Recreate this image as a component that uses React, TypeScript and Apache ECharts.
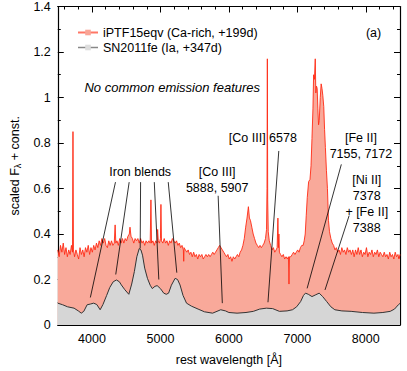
import React, { useEffect, useRef } from 'react';
import * as echarts from 'echarts';

const FONT = '"Liberation Sans", Arial, Helvetica, sans-serif';

const xMajorTicks = [4000, 5000, 6000, 7000, 8000];
const xMinorTicks = [3600, 3800, 4200, 4400, 4600, 4800, 5200, 5400, 5600, 5800, 6200, 6400, 6600, 6800, 7200, 7400, 7600, 7800, 8200, 8400];

const iptfLabel = 'iPTF15eqv (Ca-rich, +199d)';
const sn11feLabel = 'SN2011fe (Ia, +347d)';

// iPTF15eqv spectrum: [rest wavelength (Å), scaled flux]
const iptfSpectrum: number[][] = [
  [3500, 0.33], [3520, 0.30], [3540, 0.35], [3560, 0.32], [3580, 0.36], [3600, 0.31], [3620, 0.34], [3640, 0.30],
  [3660, 0.33], [3680, 0.31], [3700, 0.35], [3715, 0.32], [3722, 0.85], [3729, 0.33], [3745, 0.30], [3765, 0.33],
  [3785, 0.31], [3805, 0.29], [3825, 0.34], [3845, 0.31], [3865, 0.33], [3885, 0.30], [3905, 0.34], [3925, 0.32],
  [3945, 0.35], [3965, 0.31], [3985, 0.34], [4005, 0.32], [4025, 0.35], [4045, 0.33], [4065, 0.36], [4085, 0.34],
  [4105, 0.37], [4125, 0.35], [4145, 0.38], [4165, 0.36], [4185, 0.38], [4205, 0.35], [4225, 0.34], [4245, 0.37],
  [4265, 0.35], [4285, 0.37], [4305, 0.35], [4325, 0.36], [4338, 0.44], [4348, 0.36], [4365, 0.37], [4385, 0.35],
  [4405, 0.38], [4425, 0.36], [4445, 0.38], [4465, 0.36], [4485, 0.38], [4505, 0.37], [4525, 0.39], [4545, 0.40],
  [4555, 0.43], [4570, 0.39], [4590, 0.38], [4610, 0.36], [4630, 0.38], [4650, 0.37], [4670, 0.38], [4690, 0.36],
  [4710, 0.38], [4730, 0.36], [4750, 0.37], [4770, 0.35], [4790, 0.37], [4810, 0.36], [4830, 0.37], [4850, 0.36],
  [4861, 0.55], [4870, 0.36], [4890, 0.37], [4910, 0.35], [4930, 0.37], [4950, 0.36], [4959, 0.42], [4968, 0.37],
  [4985, 0.36], [5000, 0.38], [5007, 0.53], [5015, 0.37], [5035, 0.36], [5055, 0.38], [5075, 0.36], [5095, 0.37],
  [5115, 0.35], [5135, 0.37], [5155, 0.36], [5175, 0.38], [5195, 0.37], [5215, 0.36], [5235, 0.37], [5255, 0.35],
  [5275, 0.36], [5295, 0.34], [5315, 0.35], [5335, 0.33], [5340, 0.28], [5345, 0.34], [5365, 0.33], [5385, 0.32],
  [5405, 0.33], [5425, 0.31], [5445, 0.32], [5465, 0.30], [5485, 0.32], [5505, 0.30], [5525, 0.31], [5545, 0.29],
  [5565, 0.31], [5585, 0.30], [5605, 0.31], [5625, 0.29], [5645, 0.30], [5665, 0.31], [5685, 0.30], [5705, 0.31],
  [5725, 0.30], [5745, 0.31], [5765, 0.32], [5785, 0.31], [5805, 0.32], [5825, 0.33], [5845, 0.34], [5865, 0.35],
  [5885, 0.34], [5905, 0.33], [5925, 0.32], [5945, 0.31], [5965, 0.30], [5985, 0.31], [6005, 0.29], [6025, 0.30],
  [6045, 0.28], [6065, 0.30], [6085, 0.29], [6105, 0.30], [6125, 0.31], [6145, 0.30], [6165, 0.32], [6185, 0.33],
  [6205, 0.35], [6225, 0.38], [6245, 0.43], [6265, 0.47], [6285, 0.52], [6300, 0.47], [6315, 0.46], [6335, 0.43],
  [6355, 0.40], [6375, 0.38], [6395, 0.36], [6415, 0.35], [6435, 0.34], [6455, 0.35], [6475, 0.34], [6495, 0.35],
  [6515, 0.36], [6535, 0.38], [6550, 0.42], [6557, 0.60], [6562, 1.17], [6567, 0.55], [6575, 0.41], [6590, 0.37],
  [6610, 0.35], [6630, 0.33], [6650, 0.34], [6670, 0.32], [6690, 0.33], [6705, 0.34], [6716, 0.47], [6724, 0.34],
  [6731, 0.40], [6738, 0.32], [6755, 0.31], [6775, 0.30], [6795, 0.31], [6815, 0.29], [6835, 0.30], [6855, 0.29],
  [6870, 0.30], [6878, 0.18], [6886, 0.30], [6905, 0.30], [6925, 0.31], [6945, 0.32], [6965, 0.31], [6985, 0.32],
  [7005, 0.33], [7025, 0.32], [7045, 0.34], [7065, 0.35], [7085, 0.35], [7100, 0.37], [7115, 0.40], [7130, 0.48],
  [7145, 0.56], [7165, 0.63], [7185, 0.64], [7200, 0.70], [7214, 0.82], [7228, 0.95], [7238, 1.10], [7250, 1.08],
  [7262, 1.17], [7270, 1.02], [7280, 1.05], [7290, 1.04], [7300, 0.95], [7310, 0.88], [7320, 0.90], [7335, 1.00],
  [7348, 1.06], [7360, 1.04], [7372, 1.01], [7386, 0.96], [7398, 0.86], [7410, 0.78], [7425, 0.68], [7440, 0.60],
  [7455, 0.46], [7470, 0.41], [7490, 0.38], [7510, 0.36], [7530, 0.35], [7550, 0.33], [7570, 0.34], [7590, 0.32],
  [7610, 0.33], [7630, 0.31], [7650, 0.34], [7670, 0.32], [7690, 0.33], [7710, 0.31], [7730, 0.34], [7750, 0.32],
  [7770, 0.33], [7790, 0.31], [7810, 0.33], [7830, 0.30], [7850, 0.33], [7870, 0.31], [7890, 0.34], [7910, 0.31],
  [7930, 0.33], [7950, 0.30], [7970, 0.32], [7990, 0.31], [8010, 0.34], [8030, 0.30], [8050, 0.32], [8070, 0.31],
  [8090, 0.33], [8110, 0.30], [8130, 0.32], [8150, 0.31], [8170, 0.33], [8190, 0.30], [8210, 0.32], [8230, 0.31],
  [8250, 0.30], [8270, 0.32], [8290, 0.30], [8310, 0.31], [8330, 0.29], [8350, 0.32], [8370, 0.30], [8390, 0.31],
  [8410, 0.29], [8430, 0.32], [8450, 0.30], [8470, 0.31], [8485, 0.29], [8500, 0.31],
];

// SN2011fe spectrum: [rest wavelength (Å), scaled flux]
const sn11feSpectrum: number[][] = [
  [3500, 0.096], [3571, 0.089], [3643, 0.080], [3738, 0.074], [3800, 0.062], [3843, 0.052], [3880, 0.060],
  [3929, 0.089], [3975, 0.092], [4024, 0.096], [4070, 0.090], [4119, 0.067], [4160, 0.090], [4214, 0.130],
  [4260, 0.165], [4310, 0.190], [4357, 0.198], [4400, 0.190], [4429, 0.176], [4480, 0.155], [4538, 0.135],
  [4580, 0.180], [4619, 0.235], [4655, 0.300], [4690, 0.336], [4715, 0.330], [4738, 0.307], [4770, 0.250],
  [4810, 0.205], [4850, 0.175], [4881, 0.160], [4920, 0.170], [4952, 0.173], [5000, 0.160], [5048, 0.140],
  [5085, 0.135], [5119, 0.140], [5160, 0.175], [5214, 0.205], [5250, 0.200], [5286, 0.176], [5330, 0.130],
  [5381, 0.096], [5452, 0.083], [5550, 0.070], [5643, 0.058], [5762, 0.052], [5881, 0.067], [5950, 0.062],
  [6000, 0.055], [6119, 0.052], [6250, 0.055], [6357, 0.060], [6450, 0.070], [6548, 0.074], [6640, 0.072],
  [6738, 0.060], [6850, 0.062], [6929, 0.067], [6990, 0.080], [7048, 0.103], [7090, 0.130], [7119, 0.140],
  [7160, 0.135], [7214, 0.125], [7270, 0.133], [7319, 0.140], [7370, 0.125], [7429, 0.103], [7490, 0.080],
  [7548, 0.067], [7650, 0.062], [7786, 0.060], [7950, 0.055], [8119, 0.052], [8250, 0.055], [8357, 0.060],
  [8420, 0.070], [8476, 0.089], [8500, 0.095],
];

// Annotation texts, anchored at [wavelength, flux] (block centre)
const annotTexts: { text: string; at: number[] }[] = [
  { text: 'Iron blends', at: [4704, 0.672] },
  { text: '[Co III]\n5888, 5907', at: [5829, 0.637] },
  { text: '[Co III] 6578', at: [6496, 0.823] },
  { text: '[Fe II]\n7155, 7172', at: [7929, 0.788] },
  { text: '[Ni II]\n7378\n+ [Fe II]\n7388', at: [8014, 0.532] },
];

// Annotation leader lines: [λ1, f1, λ2, f2]
const annotLines: number[][] = [
  [4343, 0.628, 3976, 0.121],
  [4543, 0.628, 4347, 0.222],
  [4710, 0.628, 4704, 0.336],
  [4910, 0.628, 4976, 0.200],
  [5114, 0.628, 5239, 0.230],
  [5843, 0.568, 5904, 0.096],
  [6729, 0.765, 6571, 0.100],
  [7643, 0.706, 7143, 0.161],
  [7757, 0.481, 7404, 0.154],
];

const noteText = 'No common emission features';
const noteAt = [3890, 1.045];
const panelText = '(a)';
const panelAt = [8114, 1.285];

export default function App() {
  const ref = useRef<HTMLDivElement>(null);
  useEffect(() => {
    const chart = echarts.init(ref.current!, null, { renderer: 'svg' });
    const axisLine = { show: true, lineStyle: { color: '#000', width: 1.2 } };
    const xBase = { type: 'value', min: 3500, max: 8500, splitLine: { show: false } };
    const yBase = {
      type: 'value', min: 0, max: 1.4, interval: 0.2, splitLine: { show: false },
      minorTick: { show: true, splitNumber: 2, length: 3, lineStyle: { color: '#000', width: 1 } },
      minorSplitLine: { show: false },
      axisTick: { show: true, inside: true, length: 6, lineStyle: { color: '#000', width: 1 } },
      axisLine,
    };
    chart.setOption({
      animation: false,
      textStyle: { fontFamily: FONT },
      grid: { left: 50, right: 7, top: 6, bottom: 44, containLabel: false },
      legend: {
        left: 72, top: 21, orient: 'vertical', itemWidth: 20, itemHeight: 7, itemGap: 2,
        textStyle: { fontSize: 12.5, color: '#000', fontFamily: FONT },
        data: [
          { name: iptfLabel, lineStyle: { color: '#ff7766', width: 2 }, itemStyle: { color: '#f9a596' } },
          { name: sn11feLabel, lineStyle: { color: '#888', width: 1.5 }, itemStyle: { color: '#dddddd' } },
        ],
      },
      xAxis: [
        {
          ...xBase, position: 'bottom', axisLine,
          axisTick: { show: true, inside: true, length: 6, customValues: xMajorTicks, lineStyle: { color: '#000', width: 1 } },
          axisLabel: {
            show: true, customValues: xMajorTicks, margin: 7, fontSize: 12.5, color: '#000', fontFamily: FONT,
            formatter: (v: number) => String(Math.round(v)),
          },
          name: 'rest wavelength [Å]', nameLocation: 'middle', nameGap: 28,
          nameTextStyle: { fontSize: 12.5, color: '#000', fontFamily: FONT },
        },
        {
          ...xBase, position: 'bottom', axisLine: { show: false },
          axisTick: { show: true, inside: true, length: 3, customValues: xMinorTicks, lineStyle: { color: '#000', width: 1 } },
          axisLabel: { show: false },
        },
        {
          ...xBase, position: 'top', axisLine,
          axisTick: { show: true, inside: true, length: 6, customValues: xMajorTicks, lineStyle: { color: '#000', width: 1 } },
          axisLabel: { show: false },
        },
        {
          ...xBase, position: 'top', axisLine: { show: false },
          axisTick: { show: true, inside: true, length: 3, customValues: xMinorTicks, lineStyle: { color: '#000', width: 1 } },
          axisLabel: { show: false },
        },
      ],
      yAxis: [
        {
          ...yBase, position: 'left',
          axisLabel: { show: true, margin: 7, fontSize: 12.5, color: '#000', fontFamily: FONT },
          name: '{a|scaled F}{s|λ}{a| + const.}', nameLocation: 'middle', nameGap: 31,
          nameTextStyle: {
            color: '#000',
            rich: {
              a: { fontSize: 12.5, fontFamily: FONT, color: '#000', lineHeight: 16 },
              s: { fontSize: 9, fontFamily: FONT, color: '#000', lineHeight: 16, verticalAlign: 'bottom', padding: [5, 0, 0, 0] },
            },
          },
        },
        { ...yBase, position: 'right', axisLabel: { show: false } },
      ],
      series: [
        {
          name: iptfLabel, type: 'line', xAxisIndex: 0, yAxisIndex: 0, data: iptfSpectrum,
          showSymbol: false, symbol: 'rect', symbolSize: 6, z: 2,
          lineStyle: { color: '#ff2a14', width: 0.9 },
          itemStyle: { color: '#f9a596' },
          areaStyle: { color: '#f9a99a', opacity: 1 },
        },
        {
          name: sn11feLabel, type: 'line', xAxisIndex: 0, yAxisIndex: 0, data: sn11feSpectrum,
          showSymbol: false, symbol: 'rect', symbolSize: 6, z: 3,
          lineStyle: { color: '#333', width: 1 },
          itemStyle: { color: '#d6d6d6' },
          areaStyle: { color: '#d6d6d6', opacity: 1 },
        },
      ],
    });

    const px = (x: number, y: number) => chart.convertToPixel({ xAxisIndex: 0, yAxisIndex: 0 }, [x, y]) as number[];
    const graphics: any[] = [];
    annotLines.forEach((l) => {
      const a = px(l[0], l[1]);
      const b = px(l[2], l[3]);
      graphics.push({ type: 'line', z: 10, shape: { x1: a[0], y1: a[1], x2: b[0], y2: b[1] }, style: { stroke: '#000', lineWidth: 0.8 } });
    });
    annotTexts.forEach((t) => {
      const p = px(t.at[0], t.at[1]);
      graphics.push({
        type: 'text', z: 10, x: p[0], y: p[1],
        style: { text: t.text, fill: '#000', fontSize: 12.5, fontFamily: FONT, lineHeight: 16, align: 'center', verticalAlign: 'middle' },
      });
    });
    const n = px(noteAt[0], noteAt[1]);
    graphics.push({
      type: 'text', z: 10, x: n[0], y: n[1],
      style: { text: noteText, fill: '#000', fontSize: 13, fontStyle: 'italic', fontFamily: FONT, align: 'left', verticalAlign: 'middle' },
    });
    const pa = px(panelAt[0], panelAt[1]);
    graphics.push({
      type: 'text', z: 10, x: pa[0], y: pa[1],
      style: { text: panelText, fill: '#000', fontSize: 12.5, fontFamily: FONT, align: 'center', verticalAlign: 'middle' },
    });
    chart.setOption({ graphic: graphics });

    return () => chart.dispose();
  }, []);
  return <div ref={ref} style={{ position: 'absolute', left: 0, top: 0, width: 407, height: 371 }} />;
}
